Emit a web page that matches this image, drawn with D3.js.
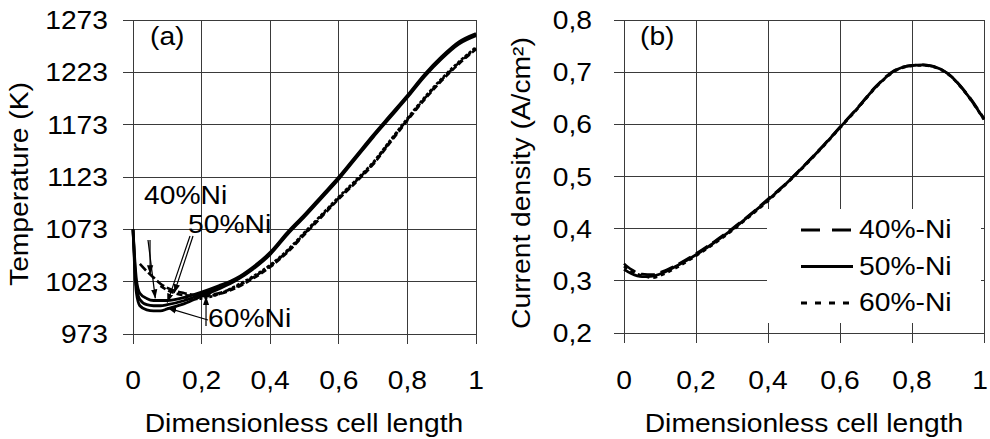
<!DOCTYPE html>
<html><head><meta charset="utf-8">
<script src="https://cdn.jsdelivr.net/npm/d3@7"></script>
<style>
html,body{margin:0;padding:0;background:#fff;}
text{font-family:"Liberation Sans",Arial,sans-serif;fill:#000;}
</style></head>
<body>
<svg id="c" width="990" height="439"></svg>
<script>
// ---------- DATA ----------
const tempTicks = [973, 1023, 1073, 1123, 1173, 1223, 1273];
const xTicks = [0, 0.2, 0.4, 0.6, 0.8, 1];
const xTickLabels = ["0", "0,2", "0,4", "0,6", "0,8", "1"];
const jTicks = [0.2, 0.3, 0.4, 0.5, 0.6, 0.7, 0.8];
const jTickLabels = ["0,2", "0,3", "0,4", "0,5", "0,6", "0,7", "0,8"];

// (a) temperature, x positions shared by all temperature series
const tempX = [0, 0.005, 0.01, 0.02, 0.04, 0.06, 0.08, 0.1, 0.15, 0.2, 0.25, 0.3, 0.35, 0.4, 0.45, 0.5, 0.55, 0.6, 0.65, 0.7, 0.75, 0.8, 0.85, 0.9, 0.95, 1.0];
// solid curves
const tempSolid40 = [1073, 1045, 1025, 1012, 1007, 1005, 1005, 1005, 1008, 1013, 1019, 1026, 1037, 1051, 1070, 1087, 1105, 1123, 1143, 1163, 1182, 1201, 1221, 1238, 1252, 1260];
const tempSolid50 = [1073, 1040, 1018, 1006, 1001, 1000, 1000, 1001, 1005, 1011, 1018, 1025, 1036, 1050, 1069, 1086, 1104, 1122, 1142, 1162, 1181, 1200, 1220, 1237, 1251, 1259];
const tempSolid60 = [1073, 1035, 1012, 1000, 996, 995, 995, 997, 1002, 1009, 1016, 1024, 1035, 1049, 1068, 1085, 1103, 1121, 1141, 1161, 1180, 1199, 1219, 1236, 1250, 1258];
// dashed curves (null = not drawn)
const tempDash40 = [null, null, null, 1040, 1033, 1027, 1021, 1017, 1012, 1010, 1012, 1018, 1027, 1038, 1052, 1069, 1086, 1103, 1119, 1136, 1157, 1178, 1198, 1216, 1232, 1246];
const tempDash50 = [null, null, null, null, null, null, 1019, 1015, 1010, 1009, 1011, 1017, 1026, 1037, 1051, 1068, 1085, 1102, 1118, 1135, 1156, 1177, 1197, 1215, 1231, 1245];
const tempDash60 = [null, null, null, null, null, null, null, null, 1006, 1007, 1011, 1019, 1028, 1039, 1053, 1070, 1087, 1104, 1120, 1137, 1158, 1179, 1199, 1217, 1233, 1247];
const tempLabels = ["40%Ni", "50%Ni", "60%Ni"];

// (b) current density
const jX = [0, 0.02, 0.05, 0.08, 0.1, 0.15, 0.2, 0.25, 0.3, 0.35, 0.4, 0.45, 0.5, 0.55, 0.6, 0.65, 0.7, 0.75, 0.8, 0.83, 0.86, 0.9, 0.95, 1.0];
const j40 = [0.333, 0.322, 0.313, 0.312, 0.316, 0.332, 0.352, 0.375, 0.400, 0.427, 0.457, 0.487, 0.521, 0.557, 0.595, 0.633, 0.673, 0.703, 0.713, 0.714, 0.711, 0.697, 0.661, 0.611];
const j50 = [0.322, 0.314, 0.308, 0.309, 0.313, 0.330, 0.350, 0.373, 0.398, 0.426, 0.455, 0.486, 0.520, 0.556, 0.594, 0.632, 0.672, 0.702, 0.713, 0.714, 0.711, 0.697, 0.660, 0.610];
const j60 = [0.328, 0.318, 0.310, 0.306, 0.310, 0.327, 0.348, 0.371, 0.396, 0.424, 0.453, 0.485, 0.519, 0.555, 0.593, 0.631, 0.671, 0.701, 0.712, 0.713, 0.710, 0.696, 0.659, 0.609];
const legendLabels = ["40%-Ni", "50%-Ni", "60%-Ni"];

// ---------- DRAW ----------
const svg = d3.select("#c");
const FS = 25, SX = 1.13;
const GRID = "#3a3a3a";

function label(g, x, y, str, anchor, rot) {
  const t = g.append("text")
    .attr("transform", rot ? `translate(${x},${y}) rotate(-90) scale(${SX},1)` : `translate(${x},${y}) scale(${SX},1)`)
    .attr("text-anchor", anchor || "start")
    .style("font-size", FS + "px")
    .text(str);
  return t;
}

svg.append("defs").append("marker")
  .attr("id", "arr").attr("viewBox", "0 0 10 10").attr("refX", 10).attr("refY", 5)
  .attr("markerWidth", 9).attr("markerHeight", 9).attr("markerUnits", "userSpaceOnUse")
  .attr("orient", "auto")
  .append("path").attr("d", "M0,1.5 L10,5 L0,8.5 Z").attr("fill", "#000");

function frame(x, y, yTicks, yLabels, labelGap) {
  const g = svg.append("g");
  const [x0, x1] = x.range(), [y0, y1] = y.range();
  g.selectAll(".hg").data(yTicks).join("line")
    .attr("x1", x0 - 10).attr("x2", x1).attr("y1", d => y(d)).attr("y2", d => y(d))
    .attr("stroke", GRID).attr("stroke-width", 1).attr("shape-rendering", "crispEdges");
  g.selectAll(".vg").data(xTicks).join("line")
    .attr("x1", d => x(d)).attr("x2", d => x(d)).attr("y1", y1).attr("y2", y0 + 10)
    .attr("stroke", GRID).attr("stroke-width", 1).attr("shape-rendering", "crispEdges");
  yTicks.forEach((d, i) => label(g, x0 - labelGap, y(d) + 9, yLabels[i], "end"));
  xTicks.forEach((d, i) => {
    if (d === 1) label(g, Math.min(x(d) + 8, 988), 389, xTickLabels[i], "end");
    else label(g, x(d), 389, xTickLabels[i], "middle");
  });
  return g;
}

// ---- panel (a)
const xa = d3.scaleLinear().domain([0, 1]).range([133, 476]);
const ya = d3.scaleLinear().domain([973, 1273]).range([334, 20]);
frame(xa, ya, tempTicks, tempTicks.map(String), 25);

const lineA = d3.line().defined(d => d[1] != null).x(d => xa(d[0])).y(d => ya(d[1])).curve(d3.curveMonotoneX);
const pa = svg.append("g");
[[tempDash40, "9,3"], [tempDash50, "6,3"], [tempDash60, "3,2"]].forEach(([s, dash]) => {
  pa.append("path").datum(tempX.map((x, i) => [x, s[i]])).attr("d", lineA)
    .attr("fill", "none").attr("stroke", "#000").attr("stroke-width", 2.6).attr("stroke-dasharray", dash);
});
[tempSolid40, tempSolid50, tempSolid60].forEach(s => {
  pa.append("path").datum(tempX.map((x, i) => [x, s[i]])).attr("d", lineA)
    .attr("fill", "none").attr("stroke", "#000").attr("stroke-width", 2.8);
});

// annotations
const ann = svg.append("g");
label(ann, 144, 204, tempLabels[0], "start");
label(ann, 188, 233, tempLabels[1], "start");
label(ann, 208, 327, tempLabels[2], "start");
const arrows = [
  [148, 240, xa(0.065), ya(1007)],
  [150, 240, xa(0.05), ya(1030)],
  [190, 236, xa(0.1), ya(1003)],
  [193, 236, xa(0.12), ya(1012)],
  [206, 326, xa(0.213), ya(1009)],
  [208, 320, xa(0.1), ya(998)]
];
ann.selectAll(".ar").data(arrows).join("line")
  .attr("x1", d => d[0]).attr("y1", d => d[1]).attr("x2", d => d[2]).attr("y2", d => d[3])
  .attr("stroke", "#000").attr("stroke-width", 1.2).attr("marker-end", "url(#arr)");

label(svg, 150, 45, "(a)", "start");
label(svg, 304, 432, "Dimensionless cell length", "middle");
label(svg, 28, 184, "Temperature (K)", "middle", true);

// ---- panel (b)
const xb = d3.scaleLinear().domain([0, 1]).range([624, 984]);
const yb = d3.scaleLinear().domain([0.2, 0.8]).range([333, 20]);
frame(xb, yb, jTicks, jTickLabels, 32);

const lineB = d3.line().x(d => xb(d[0])).y(d => yb(d[1])).curve(d3.curveMonotoneX);
const styles = [["14,6", 2.6], [null, 2.8], ["4,4", 2.6]];
const pb = svg.append("g");
[j40, j50, j60].forEach((s, k) => {
  const p = pb.append("path").datum(jX.map((x, i) => [x, s[i]])).attr("d", lineB)
    .attr("fill", "none").attr("stroke", "#000").attr("stroke-width", styles[k][1]);
  if (styles[k][0]) p.attr("stroke-dasharray", styles[k][0]);
});

// legend
const lg = svg.append("g");
lg.append("rect").attr("x", 767).attr("y", 209).attr("width", 214).attr("height", 114).attr("fill", "#fff");
const legDash = ["19,12", null, "6,8"];
legendLabels.forEach((t, i) => {
  const yy = 230 + i * 36.5;
  const l = lg.append("line").attr("x1", 801).attr("x2", 853).attr("y1", yy).attr("y2", yy)
    .attr("stroke", "#000").attr("stroke-width", 3);
  if (legDash[i]) l.attr("stroke-dasharray", legDash[i]);
  label(lg, 859, yy + 8, t, "start");
});

label(svg, 640, 45, "(b)", "start");
label(svg, 804, 432, "Dimensionless cell length", "middle");
label(svg, 530, 183, "Current density (A/cm²)", "middle", true);
</script>
</body></html>
